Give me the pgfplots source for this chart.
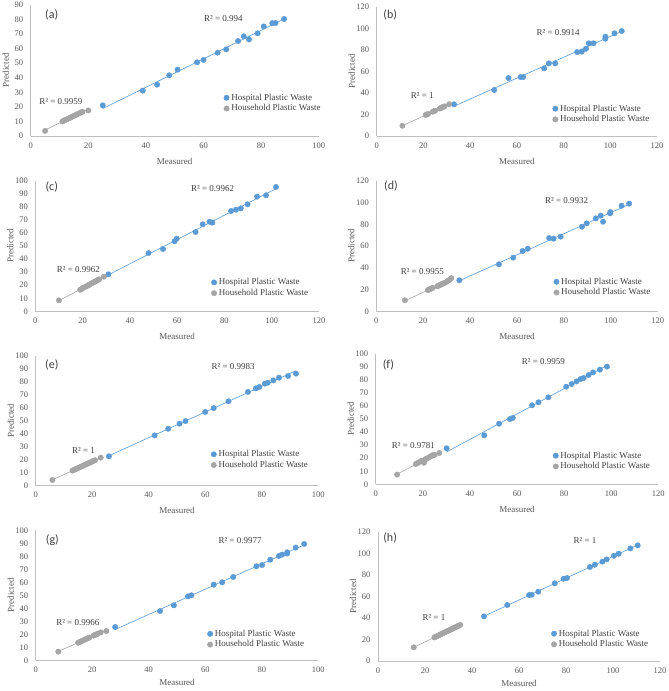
\documentclass[border=0pt]{standalone}
\usepackage{fontspec}
\setmainfont{Liberation Serif}
\newfontfamily\calibri{Carlito}
\usepackage{pgfplots}
\usepackage{pgfplotstable}
\pgfplotsset{compat=1.18}
\definecolor{hblue}{HTML}{5B9BD5}
\definecolor{hgray}{HTML}{A5A5A5}
\definecolor{axgray}{HTML}{BFBFBF}
\definecolor{txt}{HTML}{404040}
\definecolor{lbl}{HTML}{595959}

\pgfplotstableread{
x y
25.0 21.0
38.9 31.1
43.9 35.2
48.1 41.6
51.0 45.5
57.8 50.5
60.0 52.1
64.9 57.1
67.9 59.4
72.0 65.1
74.0 68.3
75.8 66.2
78.8 70.4
80.9 75.1
83.9 77.4
85.0 77.4
88.0 80.2
}\hospA
\pgfplotstableread{
x y
5 3.5
11 10
11.5 10.5
12 11
12.5 11.4
13 11.9
13.5 12.3
14 12.8
14.5 13.3
15 13.8
15.5 14.3
16 14.7
16.5 15.2
17 15.7
17.5 16.2
18 16.6
20 17.5
}\homeA
\pgfplotstableread{
x y
33.1 29.4
50.3 42.7
56.4 53.8
61.6 54.7
62.7 54.7
71.7 62.8
73.7 67.4
76.4 67.4
85.8 77.9
87.8 78.3
89.6 81.0
90.8 86.0
92.8 86.0
97.9 90.3
97.9 92.2
101.8 95.3
104.9 97.4
}\hospB
\pgfplotstableread{
x y
11 9.5
21 19.5
21.5 20.0
22 20.5
24 22.5
24.5 23.0
25 23.5
27 25.5
27.5 26.0
28 26.5
28.5 27.0
29 27.5
31 29.5
}\homeB
\pgfplotstableread{
x y
30.9 28.3
47.9 44.6
54.0 47.7
58.9 53.6
59.8 55.6
67.8 60.7
70.8 66.6
73.7 68.6
74.9 67.9
82.8 76.8
84.9 77.8
86.9 78.8
89.8 81.9
93.8 87.8
97.6 88.8
101.8 95.2
}\hospC
\pgfplotstableread{
x y
10 8.4
19 16.5
19.5 17
20 17.8
20.5 18.2
21.5 19
22 19.5
22.5 20
23 20.5
23.5 21
24 21.5
24.5 22
25 22.5
25.5 23
26 23.5
26.5 24
27 24.5
29 26.5
}\homeC
\pgfplotstableread{
x y
35.4 28.5
52.3 43.2
58.4 49.3
62.4 55.4
64.6 57.5
73.7 67.3
75.6 66.7
78.6 68.6
87.7 77.7
89.7 80.8
93.6 85.4
95.7 87.9
96.7 82.3
99.7 90.0
99.8 91.2
104.6 97.0
107.8 98.9
}\hospD
\pgfplotstableread{
x y
12.2 10.1
22 19.5
22.5 20
23 20.5
23.5 21
24 21.5
26 23
26.5 23.5
27 24
27.5 24.5
28 25
28.5 25.5
29 26
30 27
30.5 28
31 28.5
31.5 29.5
32 30.5
}\homeD
\pgfplotstableread{
x y
25.9 22.6
42.1 38.7
46.9 43.8
50.9 47.7
53.0 49.7
60.0 56.7
63.0 59.7
68.2 64.9
75.1 72.1
77.9 74.9
79.1 75.9
81.1 78.5
82.1 79.2
84.1 81.0
86.1 83.1
89.3 84.4
92.1 86.2
}\hospE
\pgfplotstableread{
x y
5.9 4.4
13 11.6
13.5 12.1
14 12.6
14.5 13.1
15 13.6
15.5 14.1
16 14.6
16.5 15.1
17 15.6
17.5 16.1
18 16.6
18.5 17.1
19 17.6
19.5 18.1
20 18.6
20.5 19.1
21 19.6
23 21.6
}\homeE
\pgfplotstableread{
x y
30.1 27.6
46.1 37.5
52.4 46.4
57.0 50.0
58.2 50.8
66.4 60.5
69.1 62.8
73.3 66.6
80.9 74.7
83.2 76.8
85.3 78.8
87.0 80.6
88.3 81.4
90.4 83.7
92.3 85.7
95.2 87.8
98.2 90.1
}\hospF
\pgfplotstableread{
x y
9.1 7.4
17 15.5
17.5 16
18 16.5
19 17.5
19.5 18
20 17.5
20.5 16.5
21 19
21.5 19.5
22 20
23 21
23.5 21.5
24 22
24.5 22.5
25 22.5
27 24
}\homeF
\pgfplotstableread{
x y
28.1 25.6
44.0 37.9
48.9 42.3
53.9 49.2
55.1 50.0
63.0 58.2
66.0 60.0
69.9 64.1
78.1 72.3
80.1 73.3
83.0 77.4
86.1 80.3
87.2 81.3
89.0 82.1
89.0 83.1
92.0 86.7
95.0 89.5
}\hospG
\pgfplotstableread{
x y
8 6.7
15 13.5
15.5 14
16 14.5
16.5 15
17 15.5
17.5 16
18 16.5
18.5 17
19 17.5
20.5 19
21 19.5
21.5 20
22 20.5
23 21.5
25 22.5
}\homeG
\pgfplotstableread{
x y
45.1 41.4
55.0 52.0
64.3 61.2
65.4 61.5
68.2 64.3
75.2 72.1
79.0 76.4
80.4 77.0
90.2 87.2
92.3 89.4
95.5 92.2
97.3 94.3
100.4 97.7
102.4 99.6
107.4 104.5
110.5 107.3
}\hospH
\pgfplotstableread{
x y
15.2 12.7
24 21.9
24.5 22.4
25 23.0
25.5 23.5
26 24.0
26.5 24.5
27 25.1
27.5 25.6
28 26.1
28.5 26.6
29 27.2
29.5 27.7
30 28.2
30.5 28.7
31 29.3
31.5 29.8
32 30.3
32.5 30.8
33 31.4
33.5 31.9
34 32.4
34.5 32.9
35 33.5
}\homeH

\tikzset{
 plab/.style={font=\calibri\fontsize{12}{14}\selectfont, text=txt},
 rlab/.style={font=\fontsize{9}{10}\selectfont, text=txt},
}
\pgfplotsset{
 panel/.style={
  scale only axis,
  axis x line=bottom, axis y line=left,
  axis line style={draw=axgray, line width=0.6pt, -},
  major tick length=0pt,
  /pgf/number format/assume math mode=true,
  tick label style={font=\fontsize{8.5}{10}\selectfont, text=lbl},
  xticklabel style={yshift=-3pt},
  yticklabel style={xshift=-4pt},
  xlabel={Measured}, ylabel={Predicted},
  every axis x label/.style={at={(axis description cs:0.5,0)}, yshift=-25pt, anchor=center, font=\fontsize{9}{10}\selectfont\mdseries, text=lbl},
  every axis y label/.style={at={(axis description cs:0,0.5)}, xshift=-25pt, rotate=90, anchor=center, font=\fontsize{9}{10}\selectfont\mdseries, text=lbl},
  legend style={draw=none, fill=none, font=\fontsize{9}{10}\selectfont, text=txt, anchor=west, legend cell align=left, inner sep=0pt, row sep=-1pt},
  legend image code/.code={\draw[##1] plot coordinates {(0pt,0pt)};},
 },
 lowx/.style={every axis x label/.append style={yshift=3pt}},
 hosp/.style={only marks, mark=*, mark size=2.7pt, color=hblue, mark options={fill=hblue, draw=hblue}},
 home/.style={only marks, mark=*, mark size=2.7pt, color=hgray, mark options={fill=hgray, draw=hgray}},
 hfit/.style={no marks, hblue, line width=0.6pt, forget plot},
 gfit/.style={no marks, hgray, line width=0.6pt, forget plot},
}

\begin{document}
\begin{tikzpicture}
\path[use as bounding box, fill=white] (0pt,0pt) rectangle (669pt,691pt);

% (a)
\begin{axis}[panel, at={(30.7pt,555pt)}, anchor=south west, width=288pt, height=131.3pt,
 xmin=0, xmax=100, ymin=0, ymax=90, xtick={0,20,...,100}, ytick={0,10,...,90},
 legend style={at={(0.67,0.25)}}]
\addplot[hosp] table {\hospA};
\addplot[home] table {\homeA};
\addplot[hfit] table[x=x, y={create col/linear regression={y=y}}] {\hospA};
\addplot[gfit] table[x=x, y={create col/linear regression={y=y}}] {\homeA};
\legend{Hospital Plastic Waste, Household Plastic Waste}
\node[plab] at (rel axis cs:0.073,0.92) {(a)};
\node[rlab] at (axis cs:66.9,80.2) {R² = 0.994};
\node[rlab] at (axis cs:10.5,23.5) {R² = 0.9959};
\end{axis}

% (b)
\begin{axis}[panel, at={(376.7pt,555pt)}, anchor=south west, width=280.3pt, height=129.3pt,
 xmin=0, xmax=120, ymin=0, ymax=120, xtick={0,20,...,120}, ytick={0,20,...,120},
 legend style={at={(0.627,0.17)}}]
\addplot[hosp] table {\hospB};
\addplot[home] table {\homeB};
\addplot[hfit] table[x=x, y={create col/linear regression={y=y}}] {\hospB};
\addplot[gfit] table[x=x, y={create col/linear regression={y=y}}] {\homeB};
\legend{Hospital Plastic Waste, Household Plastic Waste}
\node[plab] at (rel axis cs:0.048,0.935) {(b)};
\node[rlab] at (axis cs:77.7,96.2) {R² = 0.9914};
\node[rlab] at (axis cs:19.5,38) {R² = 1};
\end{axis}

% (c)
\begin{axis}[panel, at={(35.3pt,379.7pt)}, anchor=south west, width=283.7pt, height=130.6pt,
 xmin=0, xmax=120, ymin=0, ymax=100, xtick={0,20,...,120}, ytick={0,10,...,100},
 legend style={at={(0.62,0.18)}}]
\addplot[hosp] table {\hospC};
\addplot[home] table {\homeC};
\addplot[hfit] table[x=x, y={create col/linear regression={y=y}}] {\hospC};
\addplot[gfit] table[x=x, y={create col/linear regression={y=y}}] {\homeC};
\legend{Hospital Plastic Waste, Household Plastic Waste}
\node[plab] at (rel axis cs:0.058,0.954) {(c)};
\node[rlab] at (axis cs:75,94.1) {R² = 0.9962};
\node[rlab] at (axis cs:18.2,31.6) {R² = 0.9962};
\end{axis}

% (d)
\begin{axis}[panel, at={(376.3pt,379.7pt)}, anchor=south west, width=281.4pt, height=130.6pt,
 xmin=0, xmax=120, ymin=0, ymax=120, xtick={0,20,...,120}, ytick={0,20,...,120},
 legend style={at={(0.63,0.185)}}]
\addplot[hosp] table {\hospD};
\addplot[home] table {\homeD};
\addplot[hfit] table[x=x, y={create col/linear regression={y=y}}] {\hospD};
\addplot[gfit] table[x=x, y={create col/linear regression={y=y}}] {\homeD};
\legend{Hospital Plastic Waste, Household Plastic Waste}
\node[plab] at (rel axis cs:0.052,0.96) {(d)};
\node[rlab] at (axis cs:81.2,101.6) {R² = 0.9932};
\node[rlab] at (axis cs:19.6,36.4) {R² = 0.9955};
\end{axis}

% (e)
\begin{axis}[panel, at={(35.7pt,205.3pt)}, anchor=south west, width=282.6pt, height=130pt,
 xmin=0, xmax=100, ymin=0, ymax=100, xtick={0,20,...,100}, ytick={0,10,...,100},
 legend style={at={(0.62,0.20)}}]
\addplot[hosp] table {\hospE};
\addplot[home] table {\homeE};
\addplot[hfit] table[x=x, y={create col/linear regression={y=y}}] {\hospE};
\addplot[gfit] table[x=x, y={create col/linear regression={y=y}}] {\homeE};
\legend{Hospital Plastic Waste, Household Plastic Waste}
\node[plab] at (rel axis cs:0.057,0.928) {(e)};
\node[rlab] at (axis cs:69.9,91.5) {R² = 0.9983};
\node[rlab] at (axis cs:16.9,26.7) {R² = 1};
\end{axis}

% (f)
\begin{axis}[panel, at={(375.7pt,206.7pt)}, anchor=south west, width=282.6pt, height=130.6pt,
 xmin=0, xmax=120, ymin=0, ymax=100, xtick={0,20,...,120}, ytick={0,10,...,100},
 legend style={at={(0.627,0.178)}}]
\addplot[hosp] table {\hospF};
\addplot[home] table {\homeF};
\addplot[hfit] table[x=x, y={create col/linear regression={y=y}}] {\hospF};
\addplot[gfit] table[x=x, y={create col/linear regression={y=y}}] {\homeF};
\legend{Hospital Plastic Waste, Household Plastic Waste}
\node[plab] at (rel axis cs:0.045,0.913) {(f)};
\node[rlab] at (axis cs:71.2,93.9) {R² = 0.9959};
\node[rlab] at (axis cs:16,29.8) {R² = 0.9781};
\end{axis}

% (g)
\begin{axis}[panel, lowx, at={(35.7pt,30.7pt)}, anchor=south west, width=282.6pt, height=130pt,
 xmin=0, xmax=100, ymin=0, ymax=100, xtick={0,20,...,100}, ytick={0,10,...,100},
 legend style={at={(0.607,0.162)}}]
\addplot[hosp] table {\hospG};
\addplot[home] table {\homeG};
\addplot[hfit] table[x=x, y={create col/linear regression={y=y}}] {\hospG};
\addplot[gfit] table[x=x, y={create col/linear regression={y=y}}] {\homeG};
\legend{Hospital Plastic Waste, Household Plastic Waste}
\node[plab] at (rel axis cs:0.059,0.926) {(g)};
\node[rlab] at (axis cs:72.3,92) {R² = 0.9977};
\node[rlab] at (axis cs:14.9,29.2) {R² = 0.9966};
\end{axis}

% (h)
\begin{axis}[panel, lowx, at={(378pt,30pt)}, anchor=south west, width=282pt, height=129.3pt,
 xmin=0, xmax=120, ymin=0, ymax=120, xtick={0,20,...,120}, ytick={0,20,...,120},
 legend style={at={(0.614,0.17)}}]
\addplot[hosp] table {\hospH};
\addplot[home] table {\homeH};
\addplot[hfit] table[x=x, y={create col/linear regression={y=y}}] {\hospH};
\addplot[gfit] table[x=x, y={create col/linear regression={y=y}}] {\homeH};
\legend{Hospital Plastic Waste, Household Plastic Waste}
\node[plab] at (rel axis cs:0.043,0.953) {(h)};
\node[rlab] at (axis cs:88.1,111.4) {R² = 1};
\node[rlab] at (axis cs:23.8,40.2) {R² = 1};
\end{axis}
\end{tikzpicture}
\end{document}
